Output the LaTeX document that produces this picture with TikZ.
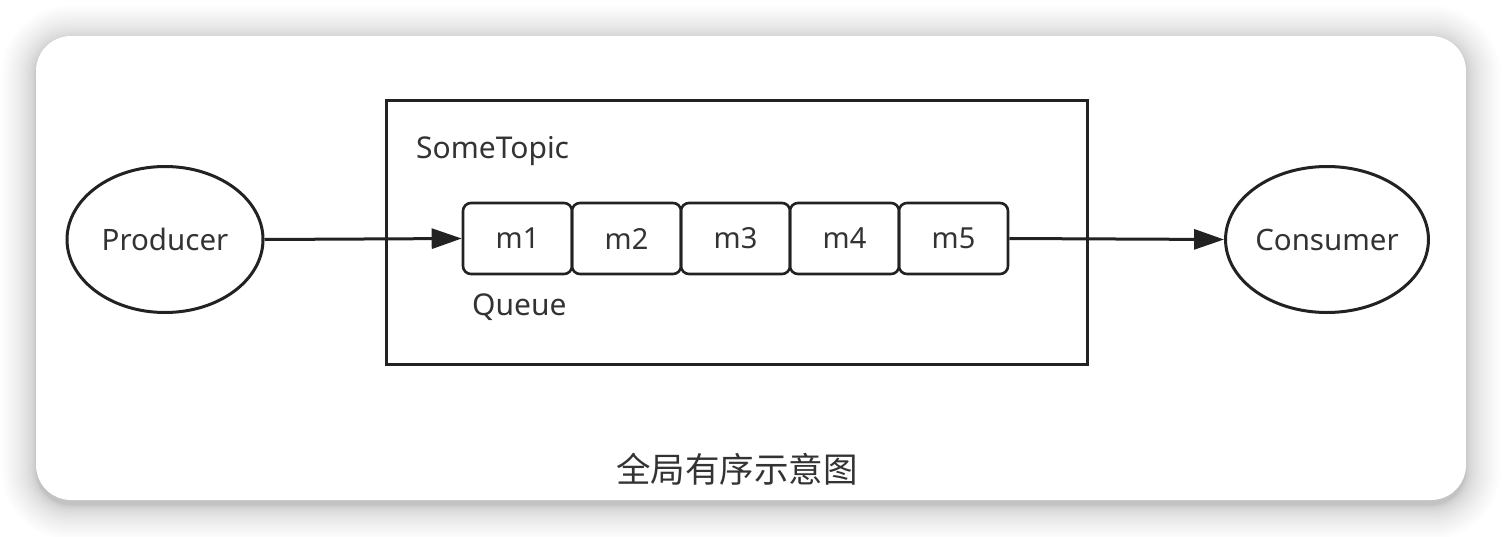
\documentclass[tikz,border=0pt]{standalone}
\usepackage{fontspec}
\setmainfont{Noto Sans}
\newfontfamily\cjk{Noto Sans CJK SC}
\usetikzlibrary{arrows.meta,shapes.geometric}
\definecolor{ink}{HTML}{222222}
\definecolor{txt}{HTML}{333333}
\begin{document}
\begin{tikzpicture}[x=1pt,y=-1pt,
  lbl/.style={font=\fontsize{30}{36}\selectfont, text=txt, inner sep=0pt},
  ell/.style={ellipse, draw=ink, line width=3pt, minimum width=196pt, minimum height=146pt, inner sep=0pt, font=\fontsize{29.5}{36}\selectfont, text=txt},
  msg/.style={draw=ink, line width=2.6pt, rounded corners=8pt, minimum width=109pt, minimum height=71pt, inner sep=0pt, font=\fontsize{29}{36}\selectfont, text=txt},
  flow/.style={-{Triangle[length=30pt,width=20pt]}, draw=ink, line width=3pt},
  frame/.style={draw=ink, line width=3pt, minimum width=701pt, minimum height=264pt, inner sep=0pt}]
\useasboundingbox (0,0) rectangle (1502,536);
\fill[white] (0,0) rectangle (1502,536);
% soft shadow around the card
\foreach \i in {1,...,20}{
  \pgfmathsetmacro{\s}{\i*\i*0.085}
  \fill[black, opacity=0.011, rounded corners={35+\s}]
    (36-\s, 40-\s) rectangle (1466+\s, 505+\s);
}
\fill[white, rounded corners=35] (36,36) rectangle (1466,500);

\node[frame] (topic) at (736.5,232) {};
\node[lbl, anchor=base west] (tname) at (416,158) {SomeTopic};

\node[ell] (prod) at (165,239.5) {Producer};
\node[ell] (cons) at (1327,239.5) {Consumer};

\node[msg] (m1) at (517.5,238.5) {m1};
\node[msg] (m2) at (626.5,238.5) {m2};
\node[msg] (m3) at (735.5,238.5) {m3};
\node[msg] (m4) at (844.5,238.5) {m4};
\node[msg] (m5) at (953.5,238.5) {m5};

\node[lbl, anchor=base west] (queue) at (472,315) {Queue};

\draw[flow] (prod.east) -- (m1.west);
\draw[flow] (m5.east) -- (cons.west);

\node[anchor=base, inner sep=0pt, text=txt, font=\cjk\fontsize{34.5}{40}\selectfont] (cap) at (737,482) {全局有序示意图};
\end{tikzpicture}
\end{document}
